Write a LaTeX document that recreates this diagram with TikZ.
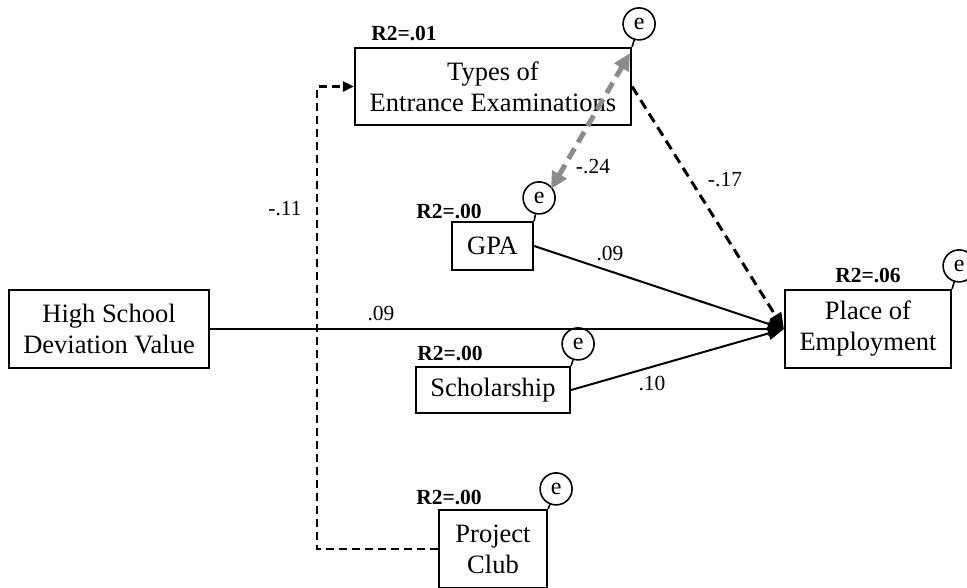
\documentclass[tikz,border=0pt]{standalone}
\usepackage{fontspec}
\setmainfont{Liberation Serif}
\usetikzlibrary{arrows.meta,calc}
\begin{document}
\begin{tikzpicture}[x=1pt,y=-1pt,
  box/.style={draw, line width=2.2pt, inner sep=0pt, align=center, font=\fontsize{26.5}{31}\selectfont},
  rlab/.style={font=\bfseries\fontsize{21.5}{24}\selectfont, inner sep=0pt},
  coef/.style={font=\fontsize{21.5}{24}\selectfont, inner sep=0pt},
  err/.style={draw, circle, line width=1.6pt, minimum size=32pt, inner sep=0pt, font=\fontsize{24}{26}\selectfont},
  stem/.style={line width=1.6pt},
  solidpath/.style={line width=2pt, -{Triangle[length=16pt,width=13pt]}},
  dashpath/.style={line width=3pt, dash pattern=on 10pt off 6pt, -{Triangle[length=16pt,width=13pt]}},
  thindash/.style={line width=2.4pt, dash pattern=on 8pt off 5pt, -{Triangle[length=11pt,width=10pt]}},
  corr/.style={line width=5pt, draw=black!45, dash pattern=on 12pt off 7pt,
    {Triangle[length=17pt,width=16pt,fill=black!45]}-{Triangle[length=17pt,width=16pt,fill=black!45]}},
]
\useasboundingbox (0,0) rectangle (967,587);

% boxes
\node[box, minimum width=276pt, minimum height=77pt] (T) at (493,86.5) {Types of\\Entrance Examinations};
\node[box, minimum width=81pt, minimum height=48pt] (G) at (492.5,246) {GPA};
\node[box, minimum width=154pt, minimum height=46pt] (S) at (493,390) {Scholarship};
\node[box, minimum width=200pt, minimum height=78pt] (H) at (109,329) {High School\\Deviation Value};
\node[box, minimum width=166pt, minimum height=78pt] (P) at (868,329) {Place of\\Employment};
\node[box, minimum width=108pt, minimum height=78pt] (C) at (493,549) {Project\\Club};

% R2 labels
\node[rlab] (rT) at (404,33) {R2=.01};
\node[rlab] (rG) at (449,211) {R2=.00};
\node[rlab] (rS) at (450,353) {R2=.00};
\node[rlab] (rP) at (868,275) {R2=.06};
\node[rlab] (rC) at (449,497) {R2=.00};

% error terms
\node[err] (eT) at ($(T.north east)+(7,-23)$) {e};
\node[err] (eG) at ($(G.north east)+(5,-23)$) {e};
\node[err] (eS) at ($(S.north east)+(7,-22)$) {e};
\node[err] (eP) at ($(P.north east)+(7,-23)$) {e};
\node[err] (eC) at ($(C.north east)+(8,-20)$) {e};
\draw[stem] (T.north east) -- (eT);
\draw[stem] (G.north east) -- (eG);
\draw[stem] (S.north east) -- (eS);
\draw[stem] (P.north east) -- (eP);
\draw[stem] (C.north east) -- (eC);

% paths
\draw[solidpath] (H.east) -- (P.west);
\draw[solidpath] (G.east) -- (P.west);
\draw[solidpath] (S.east) -- (P.west);
\draw[dashpath] (T.east) -- (P.west);
\coordinate (bend) at (317,549);
\draw[thindash] (C.west) -- (bend) |- (T.west);

% correlation
\coordinate (cg) at (551,189);
\coordinate (ct) at (630,53);
\draw[corr] (cg) -- (ct);

% coefficients
\node[coef] (k1) at (381,313) {.09};
\node[coef] (k2) at (610,253) {.09};
\node[coef] (k3) at (652,383) {.10};
\node[coef] (k4) at (725,180) {-.17};
\node[coef] (k5) at (593,167) {-.24};
\node[coef] (k6) at (285,209) {-.11};
\end{tikzpicture}
\end{document}
